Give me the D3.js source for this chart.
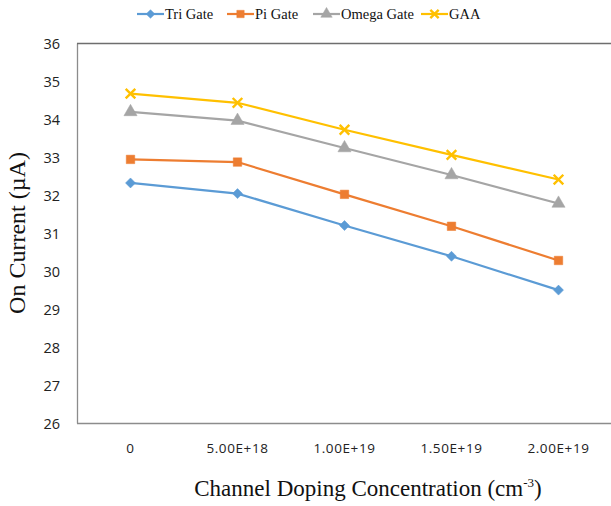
<!DOCTYPE html>
<html>
<head>
<meta charset="utf-8">
<script src="https://cdn.jsdelivr.net/npm/d3@7"></script>
<style>
  body { margin: 0; background: #fff; }
</style>
</head>
<body>
<div id="chart"></div>
<script>
// Data
const dopingLabels = ["0", "5.00E+18", "1.00E+19", "1.50E+19", "2.00E+19"];
const triGate = [32.33, 32.05, 31.21, 30.40, 29.51];
const piGate = [32.95, 32.88, 32.03, 31.19, 30.29];
const omegaGate = [34.20, 33.97, 33.25, 32.54, 31.79];
const gaa = [34.68, 34.44, 33.73, 33.07, 32.42];
const yTicks = [26, 27, 28, 29, 30, 31, 32, 33, 34, 35, 36];

const series = [
  { name: "Tri Gate", values: triGate, color: "#5b9bd5", symbol: "diamond" },
  { name: "Pi Gate", values: piGate, color: "#ed7d31", symbol: "square" },
  { name: "Omega Gate", values: omegaGate, color: "#a5a5a5", symbol: "triangle" },
  { name: "GAA", values: gaa, color: "#ffc000", symbol: "cross" }
];

const width = 611;
const height = 506;
const margin = { top: 43, right: 0, bottom: 82, left: 77 };

const svg = d3.select("#chart")
  .append("svg")
  .attr("width", width)
  .attr("height", height);

const x = d3.scaleBand()
  .domain(dopingLabels)
  .range([margin.left, width - margin.right + 1]);

const y = d3.scaleLinear()
  .domain([26, 36])
  .range([height - margin.bottom - 0.5, margin.top + 0.5]);

// frame: left, top, bottom lines
svg.append("line")
  .attr("x1", margin.left + 0.5).attr("x2", margin.left + 0.5)
  .attr("y1", y(36)).attr("y2", y(26))
  .attr("stroke", "#8c8c8c").attr("stroke-width", 1.3);
svg.append("line")
  .attr("x1", margin.left).attr("x2", width)
  .attr("y1", y(36)).attr("y2", y(36))
  .attr("stroke", "#6e6e6e").attr("stroke-width", 1.3);
svg.append("line")
  .attr("x1", margin.left).attr("x2", width)
  .attr("y1", y(26)).attr("y2", y(26))
  .attr("stroke", "#8c8c8c").attr("stroke-width", 1.3);

// y tick labels
svg.append("g")
  .selectAll("text")
  .data(yTicks)
  .join("text")
  .attr("x", 60)
  .attr("y", d => y(d))
  .attr("dy", "0.35em")
  .attr("text-anchor", "end")
  .style("font-family", "'Open Sans', sans-serif")
  .style("font-size", "14.5px")
  .style("fill", "#222")
  .text(d => d);

// x tick labels
svg.append("g")
  .selectAll("text")
  .data(dopingLabels)
  .join("text")
  .attr("x", d => x(d) + x.bandwidth() / 2)
  .attr("y", 453)
  .attr("text-anchor", "middle")
  .style("font-family", "'Open Sans', sans-serif")
  .style("font-size", "13.5px")
  .style("letter-spacing", "0.6px")
  .style("fill", "#222")
  .text(d => d);

// axis titles
svg.append("text")
  .attr("transform", "translate(25,233) rotate(-90)")
  .attr("text-anchor", "middle")
  .style("font-family", "'Liberation Serif', serif")
  .style("font-size", "24px")
  .style("fill", "#111")
  .text("On Current (µA)");

const xTitle = svg.append("text")
  .attr("x", 368)
  .attr("y", 496)
  .attr("text-anchor", "middle")
  .style("font-family", "'Liberation Serif', serif")
  .style("font-size", "23px")
  .style("fill", "#111");
xTitle.append("tspan").text("Channel Doping Concentration (cm");
xTitle.append("tspan").attr("dy", -9).style("font-size", "13px").text("-3");
xTitle.append("tspan").attr("dy", 9).text(")");

const symbolType = {
  diamond: d3.symbolSquare,
  square: d3.symbolSquare,
  triangle: d3.symbolTriangle,
  cross: d3.symbolX
};

const line = d3.line()
  .x((d, i) => x(dopingLabels[i]) + x.bandwidth() / 2)
  .y(d => y(d));

function drawMarker(g, s, size) {
  const sym = d3.symbol().type(symbolType[s.symbol]).size(size);
  g.append("path")
    .attr("d", sym)
    .attr("transform", s.symbol === "diamond" ? "rotate(45)" : null)
    .attr("fill", s.symbol === "cross" ? "none" : s.color)
    .attr("stroke", s.color)
    .attr("stroke-width", s.symbol === "cross" ? 2.4 : 0.5);
}

const markerSize = { diamond: 50, square: 72, triangle: 75, cross: 62 };

series.forEach(s => {
  svg.append("path")
    .datum(s.values)
    .attr("d", line)
    .attr("fill", "none")
    .attr("stroke", s.color)
    .attr("stroke-width", 2.2);

  s.values.forEach((v, i) => {
    const g = svg.append("g")
      .attr("transform", `translate(${x(dopingLabels[i]) + x.bandwidth() / 2},${y(v)})`);
    drawMarker(g, s, markerSize[s.symbol]);
  });
});

// legend
const legendX = [137, 227, 313, 421];
const legend = svg.append("g");
series.forEach((s, i) => {
  const g = legend.append("g").attr("transform", `translate(${legendX[i]},14)`);
  g.append("line")
    .attr("x1", 0).attr("x2", 27)
    .attr("stroke", s.color).attr("stroke-width", 2.2);
  const m = g.append("g").attr("transform", "translate(13.5,0)");
  drawMarker(m, s, markerSize[s.symbol] * 0.75);
  g.append("text")
    .attr("x", 28)
    .attr("dy", "0.35em")
    .style("font-family", "'Liberation Serif', serif")
    .style("font-size", "14.5px")
    .style("fill", "#111")
    .text(s.name);
});
</script>
</body>
</html>
